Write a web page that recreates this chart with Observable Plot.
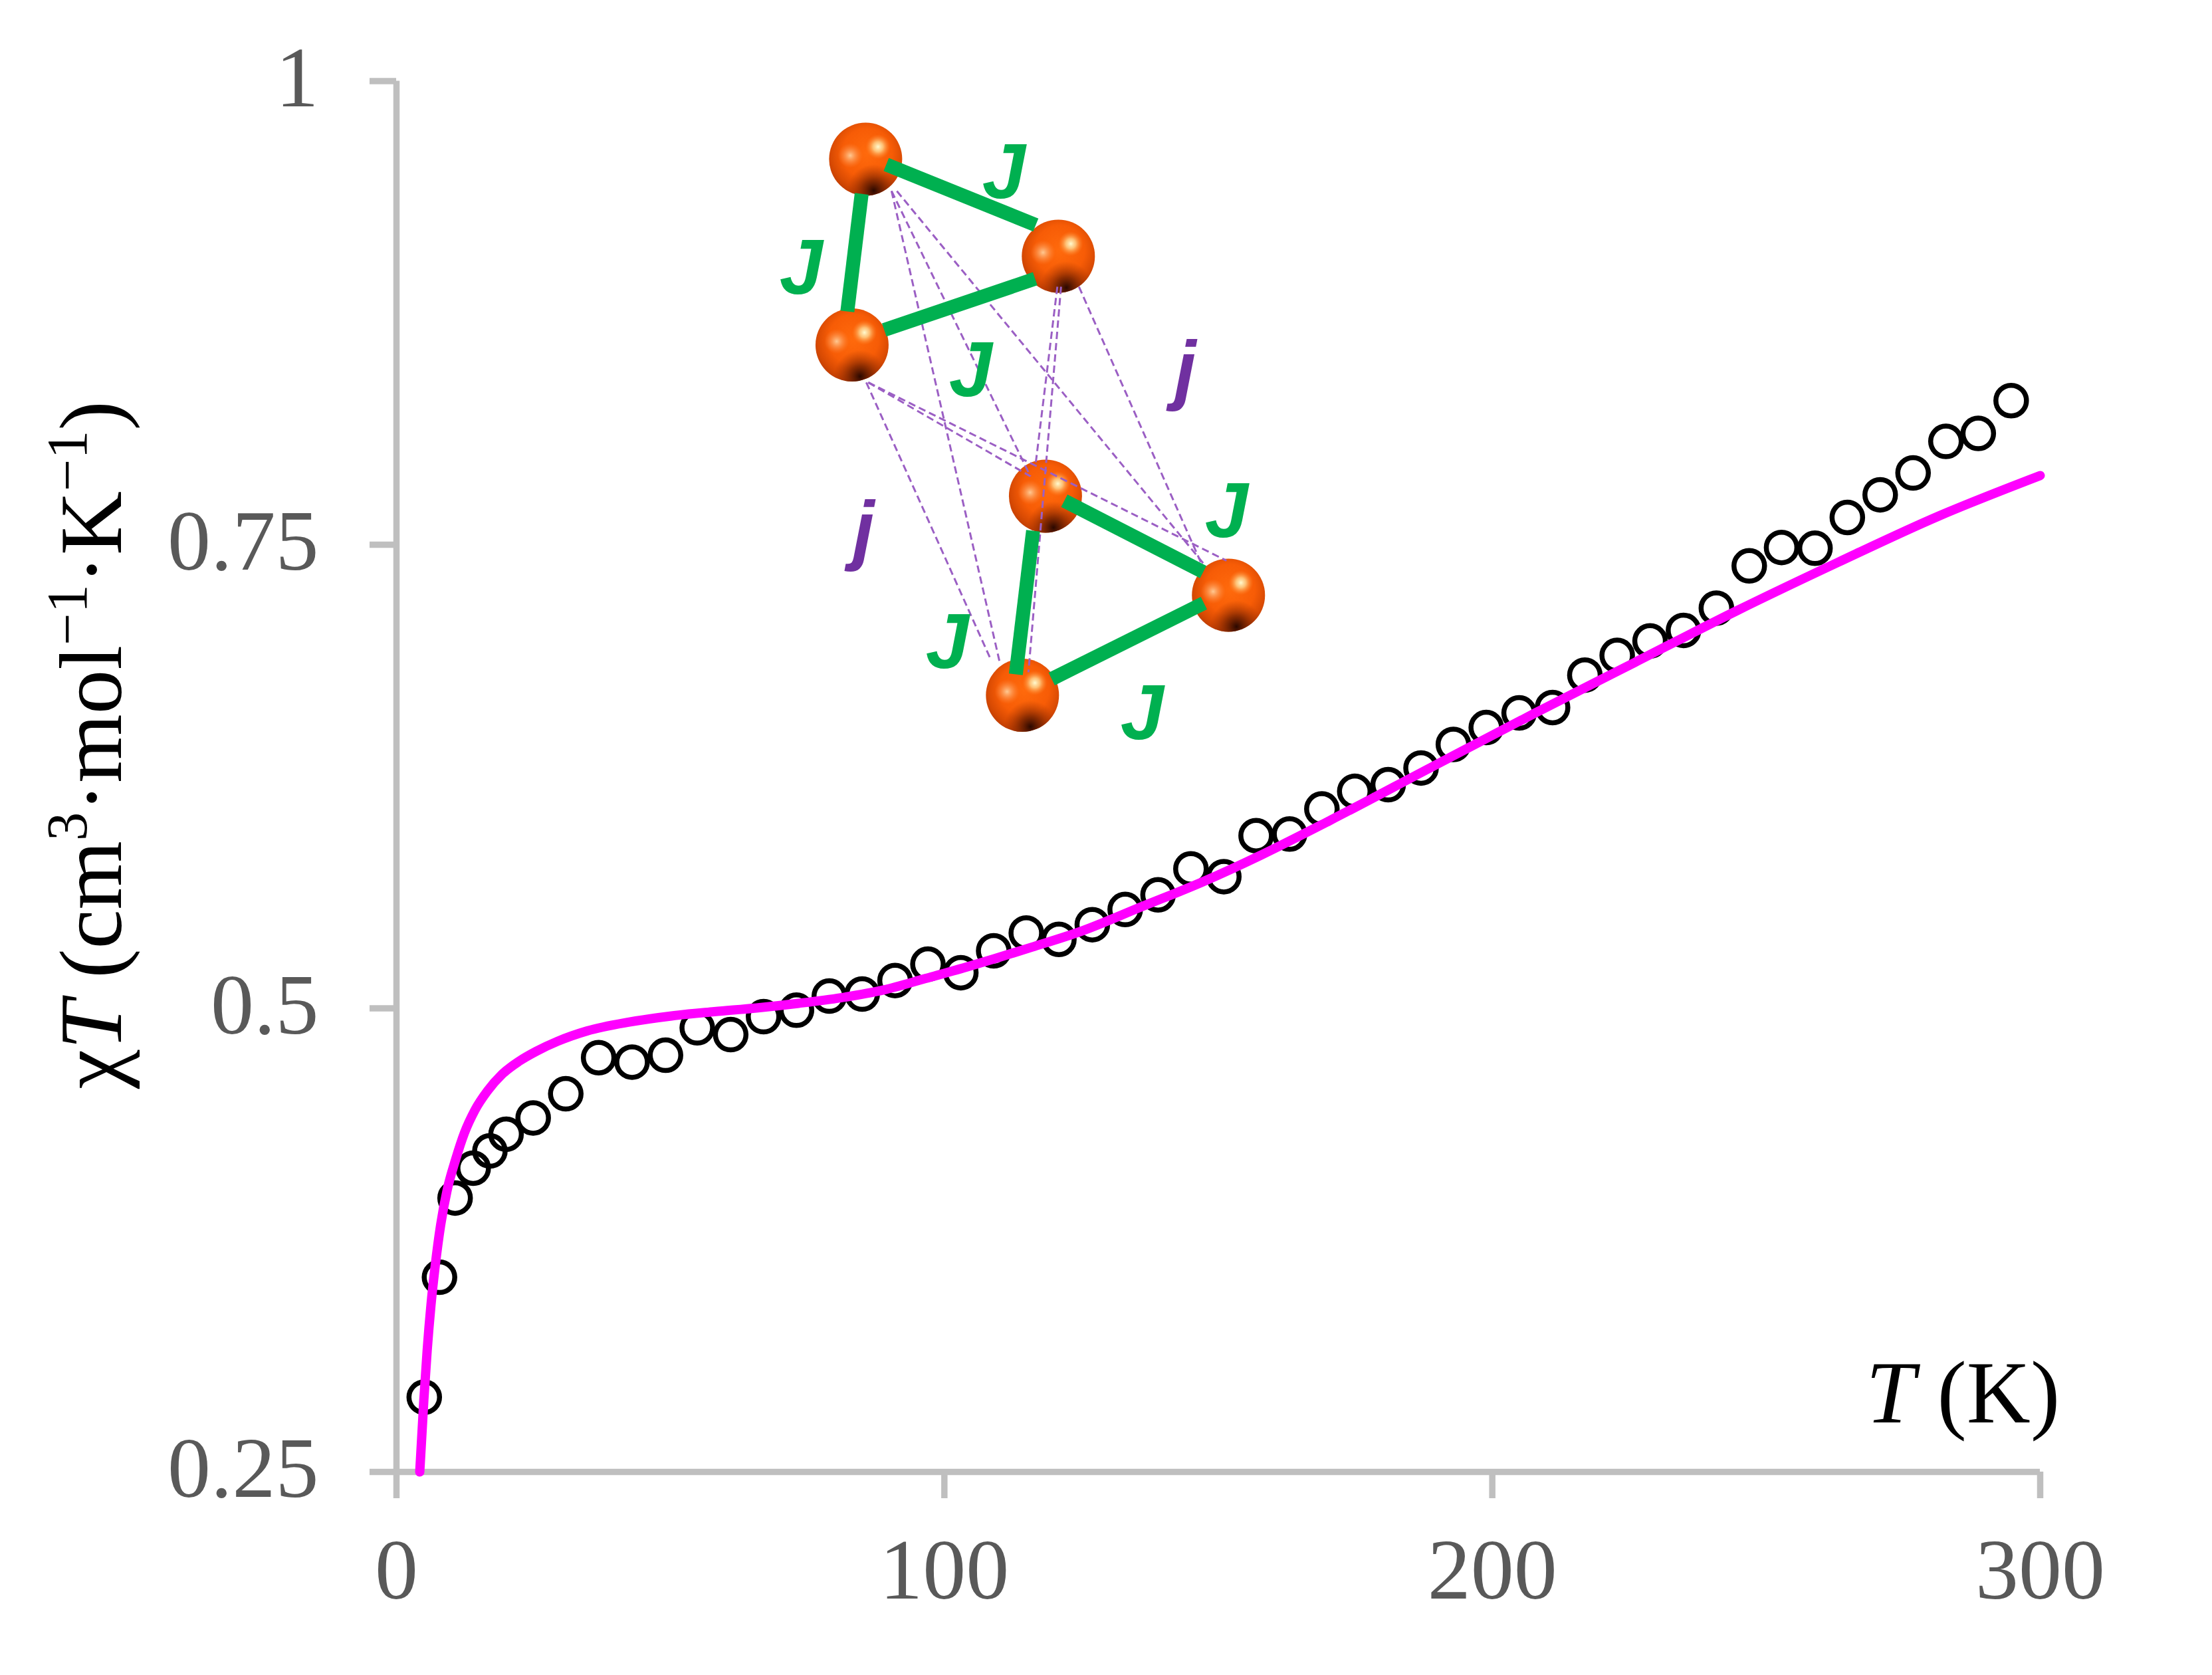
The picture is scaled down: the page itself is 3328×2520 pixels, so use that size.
<!DOCTYPE html>
<html>
<head>
<meta charset="utf-8">
<script src="https://cdn.jsdelivr.net/npm/d3@7"></script>
<script src="https://cdn.jsdelivr.net/npm/@observablehq/plot@0.6"></script>
<style>html,body{margin:0;padding:0;background:#fff}svg{display:block}</style>
</head>
<body>
<div id="chart"></div>
<script>
// Measured chi*T vs T
const expT = [5.07,7.85,10.7,14,17.05,20,24.95,30.9,36.9,43,49.1,54.9,61,67,73,79,85,91,97,103,109,114.95,120.9,127,133,139,145,151,156.9,163,168.9,174.9,181,187,192.9,198.9,204.9,211,216.9,222.8,228.8,234.9,240.9,246.9,252.8,258.9,264.8,270.8,276.8,282.8,288.7,294.7];
const expChi = [.2903,.355,.3977,.4138,.4231,.4321,.4409,.4539,.4734,.471,.4747,.4895,.4858,.4955,.499,.5066,.5077,.515,.5238,.5192,.531,.5406,.5372,.5451,.5533,.5612,.5752,.571,.5931,.594,.6075,.617,.6206,.6296,.6423,.6514,.6593,.6622,.6797,.6903,.6981,.7038,.7158,.7386,.7485,.7481,.7647,.7769,.7887,.8057,.81,.8277];
// Fitted curve
const fitT = [4.25,5,5.6,6.3,7.05,8.07,9.25,10.8,12.4,14.3,16.6,19.3,22.4,25.5,29.4,34.8,42.5,50.2,58,65.7,73.4,81.1,88.9,96.6,104,109,116,125.2,136.1,147,157.7,170.3,188.8,207.4,226,244.5,263.1,281.6,300];
const fitChi = [.25,.289,.3154,.3401,.3607,.3833,.402,.4185,.4328,.445,.4554,.4645,.4715,.4768,.4822,.4878,.4926,.4959,.4982,.5002,.5027,.5057,.5099,.5161,.5222,.5266,.533,.5418,.5549,.568,.5825,.6012,.6299,.6586,.6865,.7142,.7405,.7656,.7873];

const xTicks = [0,100,200,300];
const yTicks = [.25,.5,.75,1];
const yLabel = "χT (cm3·mol−1·K−1)";
const xLabel = "T (K)";

// Inset, expressed in the chart's own units
const atomT = [85.63,120.8,83.15,118.45,151.85,114.25];
const atomChi = [.9579,.9056,.8577,.7762,.7228,.6688];
const bondT1 = [89.39,84.9,89.02,121.89,116.19,119.59];
const bondChi1 = [.955,.9392,.8658,.7737,.7575,.6776];
const bondT2 = [116.68,82.29,116.56,147.24,113.04,147.36];
const bondChi2 = [.9224,.8758,.8934,.7353,.6801,.7185];
const weakT1 = [90.36,90.36,91.33,85.75,86.11,86.11,120.62,121.29,124.56];
const weakChi1 = [.9407,.9407,.9407,.8375,.8375,.8375,.8891,.8891,.8891];
const weakT2 = [110.13,115.7,147.24,108.43,115.7,151.49,116.68,115.34,146.88];
const weakChi2 = [.6862,.7869,.74,.6884,.7869,.7414,.7941,.6812,.74];
const bigJT = [110.86,73.86,104.79,151.49,100.55,136.08];
const bigJChi = [.9504,.8987,.8435,.7676,.697,.6586];
const smallJT = [143.97,85.26];
const smallJChi = [.8439,.7575];

const axisColor = "#bfbfbf", tickText = "#595959", fitColor = "#ff00ff";
const green = "#00b050", purple = "#7030a0", weak = "#9b5fc4";
const atomLayer = fill => Plot.dot(atomT, {x: atomT, y: atomChi, r: 55, fill, stroke: "none"});

const plot = Plot.plot({
  width: 3328, height: 2520,
  marginLeft: 596, marginRight: 259, marginTop: 121.5, marginBottom: 306,
  style: {fontFamily: "'Liberation Serif', serif", background: "#fff", overflow: "visible"},
  x: {domain: [0, 300]},
  y: {domain: [.25, 1]},
  marks: [
    Plot.axisX({ticks: xTicks, tickSize: 40, tickPadding: 58, stroke: axisColor, strokeWidth: 9.5, fill: tickText, fontSize: 130, label: null, tickFormat: d => String(d)}),
    Plot.axisY({ticks: yTicks, tickSize: 40, stroke: axisColor, strokeWidth: 9.5, fill: "none", label: null}),
    Plot.axisY({ticks: yTicks, tickSize: 40, tickPadding: 77, stroke: "none", fill: tickText, fontSize: 130, dy: -4, label: null, tickFormat: d => String(d)}),
    Plot.ruleX([0], {stroke: axisColor, strokeWidth: 9.5}),
    Plot.ruleY([.25], {stroke: axisColor, strokeWidth: 9.5}),
    Plot.dot(expT, {x: expT, y: expChi, r: 23, stroke: "#000", strokeWidth: 7.5, fill: "none"}),
    Plot.line(fitT, {x: fitT, y: fitChi, stroke: fitColor, strokeWidth: 14, curve: "monotone-x", strokeLinejoin: "round"}),
    atomLayer("url(#atomBase)"),
    atomLayer("url(#atomDark)"),
    atomLayer("url(#atomGlowA)"),
    atomLayer("url(#atomGlowB)"),
    Plot.link(weakT1, {x1: weakT1, y1: weakChi1, x2: weakT2, y2: weakChi2, stroke: weak, strokeWidth: 3, strokeDasharray: "11 6"}),
    Plot.link(bondT1, {x1: bondT1, y1: bondChi1, x2: bondT2, y2: bondChi2, stroke: green, strokeWidth: 21}),
    Plot.text(bigJT, {x: bigJT, y: bigJChi, text: () => "J", fill: green, fontSize: 117, fontFamily: "'Liberation Sans', sans-serif", fontWeight: "bold", fontStyle: "italic"}),
    Plot.text(smallJT, {x: smallJT, y: smallJChi, text: () => "j", fill: purple, fontSize: 117, fontFamily: "'Liberation Sans', sans-serif", fontWeight: "bold", fontStyle: "italic"}),
    Plot.text([yLabel], {x: [-55.5], y: [.6421], text: d => d, rotate: -90, fontSize: 133, fill: "#000", textAnchor: "middle"}),
    Plot.text([xLabel], {x: [285.9], y: [.2919], text: d => d, fontSize: 133, fill: "#000", textAnchor: "middle"})
  ]
});

// Sphere shading
const ns = "http://www.w3.org/2000/svg";
const defs = document.createElementNS(ns, "defs");
const grad = (id, cx, cy, r, stops) => {
  const g = document.createElementNS(ns, "radialGradient");
  g.setAttribute("id", id); g.setAttribute("cx", cx); g.setAttribute("cy", cy); g.setAttribute("r", r);
  for (const [o, c, a] of stops) {
    const s = document.createElementNS(ns, "stop");
    s.setAttribute("offset", o); s.setAttribute("stop-color", c); s.setAttribute("stop-opacity", a);
    g.appendChild(s);
  }
  defs.appendChild(g);
};
grad("atomBase", .52, .42, .62, [[0,"#ff6a0c",1],[.55,"#f75c06",1],[.8,"#d84a03",1],[1,"#b83a02",1]]);
grad("atomDark", .61, .93, .36, [[0,"#2a0800",1],[.4,"#6a1e00",.75],[1,"#a03000",0]]);
grad("atomGlowA", .67, .33, .17, [[0,"#fffbd0",1],[.4,"#ffd890",.8],[1,"#ff8a30",0]]);
grad("atomGlowB", .29, .45, .17, [[0,"#ffcf9a",.95],[1,"#ff8a40",0]]);
plot.insertBefore(defs, plot.firstChild);

// Rich text for the axis titles
const rich = (label, parts) => {
  const t = Array.from(plot.querySelectorAll("text")).find(e => e.textContent === label);
  t.textContent = "";
  let shift = 0;
  for (const [s, kind] of parts) {
    const sp = document.createElementNS(ns, "tspan");
    sp.textContent = s;
    if (kind === "i") sp.setAttribute("font-style", "italic");
    if (kind === "sup") {
      sp.setAttribute("font-size", "86");
      sp.setAttribute("dy", -52);
      shift = 52;
    } else if (shift) {
      sp.setAttribute("dy", shift);
      shift = 0;
    }
    t.appendChild(sp);
  }
};
rich(yLabel, [["χ"],["T","i"],[" (cm"],["3","sup"],["·mol"],["−1","sup"],["·K"],["−1","sup"],[")"]]);
rich(xLabel, [["T","i"],[" (K)"]]);

document.getElementById("chart").appendChild(plot);
</script>
</body>
</html>
